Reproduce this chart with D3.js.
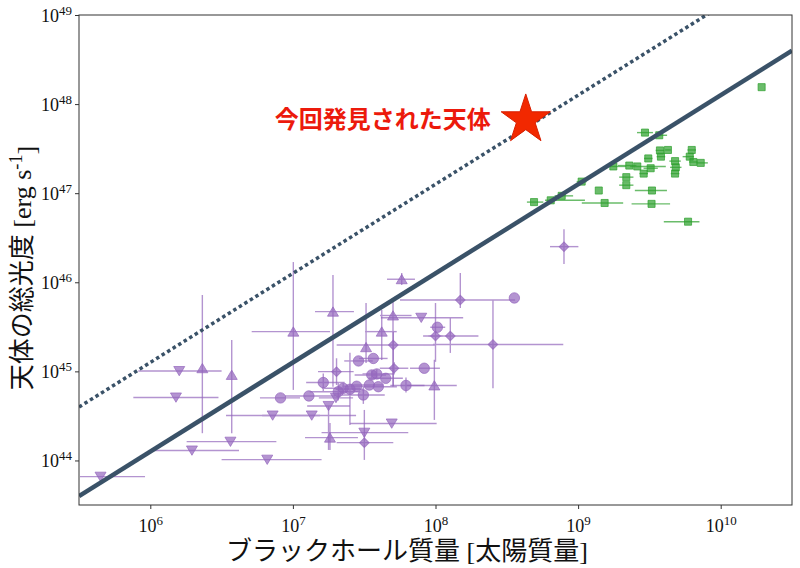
<!DOCTYPE html>
<html>
<head>
<meta charset="utf-8">
<script src="https://cdn.jsdelivr.net/npm/d3@7"></script>
<style>
  body { margin: 0; background: #fff; }
  text { font-family: "Liberation Serif", "Noto Sans CJK JP", serif; }
</style>
</head>
<body>
<div id="chart"></div>
<script>
(function () {

  // axis ticks (log10 exponents)
  var xTickExp = [6, 7, 8, 9, 10]
  var yTickExp = [44, 45, 46, 47, 48, 49]

  // purple samples: [log M, log L, x err low, x err high, y err low, y err high] (dex)
  var purpleTriDown = [
    [5.651, 43.818, 0.144, 0.312, 0, 0],
    [6.203, 45.004, 0.287, 0.297, 0, 0],
    [6.180, 44.707, 0.299, 0.298, 0, 0],
    [6.562, 44.211, 0.307, 0.322, 0, 0],
    [6.292, 44.112, 0.294, 0.330, 0, 0],
    [6.820, 44.009, 0.320, 0.381, 0, 0],
    [6.858, 44.505, 0.327, 0.332, 0, 0],
    [7.132, 44.505, 0.348, 0.311, 0, 0],
    [7.250, 44.612, 0.150, 0.150, 0.494, 0],
    [7.501, 44.312, 0.300, 0.308, 0, 0],
    [7.693, 44.415, 0.292, 0.315, 0, 0],
    [7.900, 45.602, 0.283, 0.294, 0, 0],
    [7.302, 44.702, 0.120, 0.120, 0, 0]
  ]
  var purpleTriUp = [
    [6.365, 45.035, 0, 0, 0.729, 0.822],
    [6.571, 44.960, 0, 0, 0.654, 0.393],
    [7.003, 45.446, 0.292, 0.257, 0.654, 0.781],
    [7.260, 44.256, 0.175, 0.196, 0.138, 0.165],
    [7.763, 46.034, 0.103, 0.093, 0.065, 0.070],
    [7.281, 45.670, 0.126, 0.147, 0.842, 0.412],
    [7.702, 45.627, 0.091, 0.130, 0.800, 0.155],
    [7.623, 45.446, 0.117, 0.105, 0.318, 0.243],
    [7.513, 45.271, 0, 0, 0.176, 0.497],
    [7.992, 44.842, 0.193, 0.157, 0.387, 0.288]
  ]
  var purpleDiamonds = [
    [7.501, 44.200, 0.194, 0.203, 0.194, 0.367],
    [8.174, 45.801, 0.423, 0.384, 0.090, 0.303],
    [8.403, 45.302, 0.421, 0.493, 0.491, 0.499],
    [7.704, 45.296, 0.397, 0.292, 0.460, 0.150],
    [8.000, 45.397, 0.050, 0.050, 0.290, 0.370],
    [8.104, 45.397, 0.191, 0.197, 0.190, 0.200],
    [7.306, 44.997, 0.130, 0.120, 0.150, 0.150],
    [7.709, 45.035, 0.100, 0.100, 0.070, 0.070],
    [8.901, 46.400, 0.098, 0.101, 0.194, 0.195]
  ]
  var purpleCircles = [
    [6.913, 44.702, 0.144, 0.137, 0, 0],
    [7.112, 44.724, 0.167, 0.183, 0, 0],
    [8.553, 45.824, 0, 0, 0, 0],
    [8.013, 45.495, 0.050, 0.055, 0, 0],
    [7.460, 45.117, 0.100, 0.100, 0, 0],
    [7.564, 45.145, 0.100, 0.100, 0, 0],
    [7.921, 45.035, 0.100, 0.110, 0, 0],
    [7.553, 44.960, 0.120, 0.100, 0.05, 0.05],
    [7.588, 44.971, 0.100, 0.120, 0.05, 0.05],
    [7.651, 44.922, 0.120, 0.120, 0, 0],
    [7.213, 44.875, 0.120, 0.150, 0.10, 0.10],
    [7.353, 44.810, 0.150, 0.120, 0.05, 0.05],
    [7.447, 44.833, 0.100, 0.100, 0, 0],
    [7.536, 44.847, 0.140, 0.100, 0, 0],
    [7.599, 44.828, 0.100, 0.130, 0, 0],
    [7.793, 44.842, 0.110, 0.130, 0.08, 0.09],
    [7.318, 44.772, 0.200, 0.150, 0.10, 0.10],
    [7.400, 44.799, 0.100, 0.100, 0.40, 0.41],
    [7.494, 44.735, 0.150, 0.150, 0.10, 0.10]
  ]

  // green quasars: [log M, log L, x err low, x err high]
  var greenSquares = [
    [10.287, 48.19, 0, 0],
    [9.469, 47.68, 0.056, 0.056],
    [9.569, 47.65, 0.030, 0.055],
    [9.574, 47.48, 0.030, 0.030],
    [9.630, 47.485, 0.020, 0.020],
    [9.797, 47.485, 0.030, 0.030],
    [9.581, 47.41, 0.030, 0.030],
    [9.492, 47.39, 0.030, 0.030],
    [9.783, 47.41, 0.050, 0.030],
    [9.808, 47.35, 0.030, 0.030],
    [9.860, 47.34, 0.030, 0.050],
    [9.680, 47.36, 0.040, 0.040],
    [9.685, 47.29, 0.040, 0.040],
    [9.680, 47.22, 0.030, 0.030],
    [9.359, 47.31, 0.080, 0.050],
    [9.415, 47.30, 0.050, 0.200],
    [9.509, 47.28, 0.050, 0.050],
    [9.460, 47.22, 0.030, 0.030],
    [9.247, 47.30, 0.047, 0.090],
    [9.338, 47.18, 0.050, 0.050],
    [9.338, 47.09, 0.050, 0.050],
    [9.025, 47.13, 0.035, 0.035],
    [9.145, 47.03, 0, 0],
    [9.518, 47.03, 0.120, 0.105],
    [8.691, 46.90, 0.050, 0.065],
    [8.808, 46.92, 0.040, 0.240],
    [8.885, 46.97, 0.050, 0.080],
    [9.186, 46.89, 0.160, 0.130],
    [9.515, 46.88, 0.140, 0.130],
    [9.771, 46.68, 0.170, 0.080]
  ]

  // newly found object
  var newObject = [8.633, 47.824]

  // Eddington limit lines: log L = log M + offset
  var lineMass = [5.5, 10.5]
  var eddingtonOffset = 38.1
  var superEddingtonOffset = 39.1

  // set margins
  var margin = { top: 15, right: 8, bottom: 63, left: 79 }
  var width = 800 - margin.left - margin.right,
      height = 568 - margin.top - margin.bottom

  var svg = d3.select("#chart").append("svg")
      .attr("width", 800)
      .attr("height", 568)

  var g = svg.append("g")
      .attr("transform", "translate(" + margin.left + "," + margin.top + ")")

  var p10 = v => Math.pow(10, v)

  var x = d3.scaleLog()
    .domain([p10(5.5), p10(10.5)])
    .range([0, width])

  var y = d3.scaleLog()
    .domain([p10(43.5), p10(49)])
    .range([height, 0])

  g.append("clipPath").attr("id", "clip")
    .append("rect").attr("width", width).attr("height", height)

  var plot = g.append("g").attr("clip-path", "url(#clip)")

  // draw error bars for a series
  function errorBars(data, color) {
    var eb = plot.append("g")
      .attr("stroke", color)
      .attr("stroke-width", 1.4)
      .attr("opacity", 0.7)
    eb.selectAll("line.xe")
      .data(data.filter(d => d[2] > 0 || d[3] > 0))
      .join(enter => enter.append("line").attr("class", "xe"))
      .attr("x1", d => x(p10(d[0] - d[2])))
      .attr("x2", d => x(p10(d[0] + d[3])))
      .attr("y1", d => y(p10(d[1])))
      .attr("y2", d => y(p10(d[1])))
    eb.selectAll("line.ye")
      .data(data.filter(d => d.length > 4 && (d[4] > 0 || d[5] > 0)))
      .join(enter => enter.append("line").attr("class", "ye"))
      .attr("x1", d => x(p10(d[0])))
      .attr("x2", d => x(p10(d[0])))
      .attr("y1", d => y(p10(d[1] - d[4])))
      .attr("y2", d => y(p10(d[1] + d[5])))
  }

  // marker shapes
  var triUpPath = "M0,-4.8L5.5,4.5L-5.5,4.5Z"
  var triDownPath = "M0,4.8L5.5,-4.5L-5.5,-4.5Z"
  var circlePath = d3.symbol(d3.symbolCircle, 85)()
  var diamondPath = d3.symbol(d3.symbolSquare, 46)()
  var squarePath = d3.symbol(d3.symbolSquare, 50)()

  function markers(data, path, color, rotate) {
    plot.append("g").selectAll("path")
      .data(data)
      .join("path")
      .attr("d", path)
      .attr("transform", d => "translate(" + x(p10(d[0])) + "," + y(p10(d[1])) + ")" + (rotate ? " rotate(45)" : ""))
      .attr("fill", color)
      .attr("fill-opacity", 0.7)
      .attr("stroke", color)
      .attr("stroke-opacity", 0.7)
      .attr("stroke-width", 1)
  }

  var purple = "#9467bd"
  var green = "#2ca02c"

  errorBars(greenSquares, green)
  markers(greenSquares, squarePath, green, false)

  errorBars(purpleTriDown, purple)
  errorBars(purpleTriUp, purple)
  errorBars(purpleDiamonds, purple)
  errorBars(purpleCircles, purple)
  markers(purpleTriDown, triDownPath, purple, false)
  markers(purpleTriUp, triUpPath, purple, false)
  markers(purpleDiamonds, diamondPath, purple, true)
  markers(purpleCircles, circlePath, purple, false)

  // Eddington lines
  var lineColor = "#3a5268"
  var line = d3.line()
    .x(d => x(p10(d[0])))
    .y(d => y(p10(d[1])))

  plot.append("path")
    .datum(lineMass.map(m => [m, m + eddingtonOffset]))
    .attr("d", line)
    .attr("fill", "none")
    .attr("stroke", lineColor)
    .attr("stroke-width", 4.5)

  plot.append("path")
    .datum(lineMass.map(m => [m, m + superEddingtonOffset]))
    .attr("d", line)
    .attr("fill", "none")
    .attr("stroke", lineColor)
    .attr("stroke-width", 3.5)
    .attr("stroke-dasharray", "3.5,3")

  // star for the new object
  var sx = x(p10(newObject[0])), sy = y(p10(newObject[1]))
  plot.append("path")
    .attr("d", d3.symbol(d3.symbolStar, 750)())
    .attr("transform", "translate(" + sx + "," + sy + ")")
    .attr("fill", "#f22800")
    .attr("stroke", "#d81e00")
    .attr("stroke-width", 1)

  g.append("text")
    .attr("x", sx - 35)
    .attr("y", sy + 8)
    .attr("text-anchor", "end")
    .attr("fill", "#ec1a0c")
    .attr("font-size", 24)
    .attr("font-weight", "bold")
    .style("font-family", "'Noto Sans CJK JP', sans-serif")
    .text("今回発見された天体")

  // frame
  g.append("rect")
    .attr("width", width)
    .attr("height", height)
    .attr("fill", "none")
    .attr("stroke", "#333")
    .attr("stroke-width", 1)

  // axes
  function supLabel(sel) {
    sel.each(function (d) {
      var t = d3.select(this).text("")
      t.append("tspan").text("10")
      t.append("tspan").attr("dy", "-0.55em").attr("font-size", "0.72em").text(Math.round(Math.log10(d)))
    })
  }

  var xAxis = g.append("g")
    .attr("transform", "translate(0," + height + ")")
    .call(d3.axisBottom(x).tickValues(xTickExp.map(p10)).tickSize(4).tickPadding(4).tickFormat(""))
  xAxis.select(".domain").remove()
  xAxis.selectAll(".tick line").attr("stroke", "#333")
  xAxis.selectAll(".tick text")
    .attr("font-size", 18)
    .attr("fill", "#111")
    .attr("dy", "1.05em")
    .call(supLabel)

  var yAxis = g.append("g")
    .call(d3.axisLeft(y).tickValues(yTickExp.map(p10)).tickSize(4).tickPadding(3).tickFormat(""))
  yAxis.select(".domain").remove()
  yAxis.selectAll(".tick line").attr("stroke", "#333")
  yAxis.selectAll(".tick text")
    .attr("font-size", 18)
    .attr("fill", "#111")
    .attr("dy", "0.35em")
    .call(supLabel)

  // axis titles
  svg.append("text")
    .attr("x", 407)
    .attr("y", 560)
    .attr("text-anchor", "middle")
    .attr("font-size", 26)
    .attr("fill", "#111")
    .text("ブラックホール質量 [太陽質量]")

  var yt = svg.append("text")
    .attr("transform", "translate(31,268) rotate(-90)")
    .attr("text-anchor", "middle")
    .attr("font-size", 26)
    .attr("fill", "#111")
  yt.append("tspan").text("天体の総光度 [erg s")
  yt.append("tspan").attr("dy", "-0.5em").attr("font-size", "0.7em").text("-1")
  yt.append("tspan").attr("dy", "0.5em").text("]")

})();
</script>
</body>
</html>
